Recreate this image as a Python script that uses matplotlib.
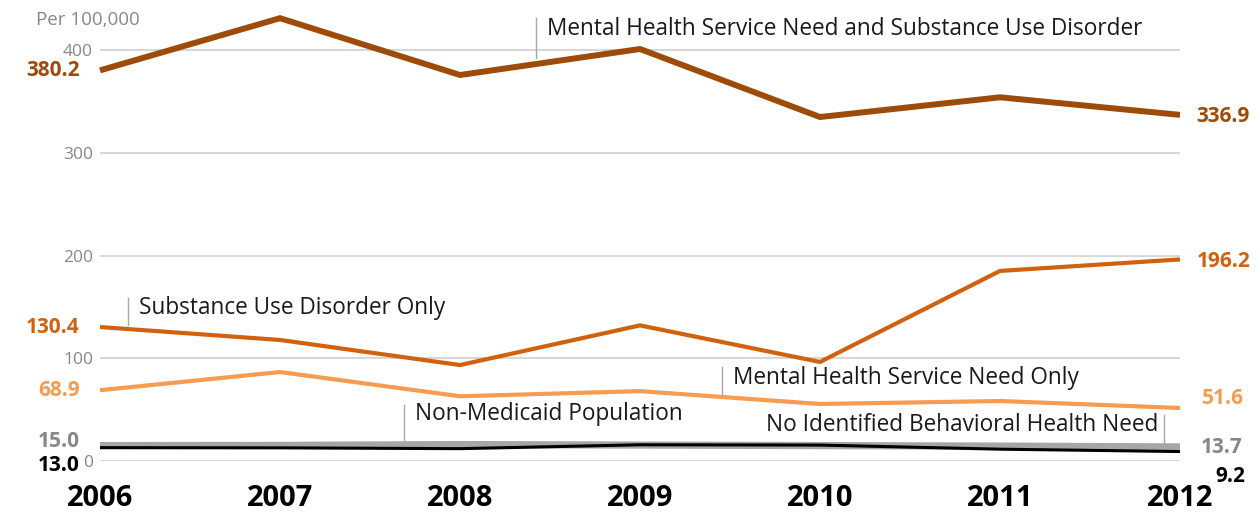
import matplotlib.pyplot as plt

plt.rcParams['font.family'] = ['Open Sans', 'DejaVu Sans']

# -------- DATA --------
years = [2006, 2007, 2008, 2009, 2010, 2011, 2012]
mh_and_sud = [380.2, 431.0, 375.7, 401.0, 334.8, 354.0, 336.9]
sud_only = [130.4, 117.8, 93.4, 132.0, 96.4, 185.0, 196.2]
mh_only = [68.9, 86.6, 63.0, 68.0, 55.5, 58.4, 51.6]
non_medicaid = [15.0, 15.2, 16.0, 15.5, 15.0, 14.5, 13.7]
no_bh_need = [13.0, 12.8, 12.0, 15.8, 15.5, 11.5, 9.2]

series_names = [
    "Mental Health Service Need and Substance Use Disorder",
    "Substance Use Disorder Only",
    "Mental Health Service Need Only",
    "Non-Medicaid Population",
    "No Identified Behavioral Health Need",
]
yticks = [0, 100, 200, 300, 400]

# -------- STYLE --------
c_brown = '#9E4A08'
c_orange = '#D0610F'
c_light = '#F79B50'
c_gray = '#A6A6A6'
c_gray_txt = '#878787'
c_black = '#000000'

fig = plt.figure(figsize=(12.6, 5.18), dpi=100)
ax = fig.add_axes([100 / 1260, 57 / 518, 1080 / 1260, 461 / 518])
ax.set_xlim(2006, 2012)
ax.set_ylim(0, 448.7)
k = 1.0275  # pixels per data unit


def px_x(p):
    return 2006 + (p - 100) / 180


def px_y(p):
    return (461 - p) / k


series = [
    (mh_and_sud, c_brown, 4.3),
    (sud_only, c_orange, 3.0),
    (mh_only, c_light, 3.0),
    (non_medicaid, c_gray, 5.2),
    (no_bh_need, c_black, 2.2),
]
for vals, col, lw in series:
    ax.plot(years, vals, color=col, lw=lw, clip_on=False,
            solid_capstyle='butt', solid_joinstyle='miter', zorder=3)

# grid and axes
ax.set_yticks(yticks)
ax.set_yticklabels([str(t) for t in yticks], color=c_gray_txt, fontsize=12.5)
ax.tick_params(axis='y', length=0, pad=5)
ax.grid(axis='y', color='#D0D0D0', lw=1.2, zorder=0)
ax.set_xticks([])
for s in ax.spines.values():
    s.set_visible(False)
ax.text(px_x(36), px_y(20), "Per 100,000", color=c_gray_txt,
        fontsize=13.5, ha='left', va='center')

for yr in years:
    ax.text(yr, px_y(499), str(yr), ha='center', va='center',
            fontsize=21, fontweight='bold', color='black')

# end value labels: (value, colour, x px, y offset px)
left_labels = [(mh_and_sud[0], c_brown, 80, 0), (sud_only[0], c_orange, 80, 0),
               (mh_only[0], c_light, 80, 0), (non_medicaid[0], c_gray_txt, 80, 4),
               (no_bh_need[0], c_black, 80, -18)]
right_labels = [(mh_and_sud[-1], c_brown, 1196, -2), (sud_only[-1], c_orange, 1197, -2),
                (mh_only[-1], c_light, 1202, 9), (non_medicaid[-1], c_gray_txt, 1201, -1),
                (no_bh_need[-1], c_black, 1215, -25)]
for v, col, x, dy in left_labels:
    ax.text(px_x(x), v + dy / k, f"{v:.1f}", ha='right', va='center',
            fontsize=15, fontweight='bold', color=col)
for v, col, x, dy in right_labels:
    ax.text(px_x(x), v + dy / k, f"{v:.1f}", ha='left', va='center',
            fontsize=15, fontweight='bold', color=col)

# series labels with leader lines: (text, leader x px, top px, bottom px, text x px, text y px, ha)
ann = [
    (series_names[0], 536, 18, 58, 547, 29, 'left'),
    (series_names[1], 128, 298, 325, 139, 308, 'left'),
    (series_names[2], 722, 367, 394, 733, 378, 'left'),
    (series_names[3], 404, 405, 441, 415, 414, 'left'),
    (series_names[4], 1164, 415, 445, 1158, 425, 'right'),
]
for name, lx, yt, yb, tx, ty, ha in ann:
    ax.plot([px_x(lx), px_x(lx)], [px_y(yt), px_y(yb)], color=c_gray, lw=1,
            zorder=2, clip_on=False)
    ax.text(px_x(tx), px_y(ty), name, ha=ha, va='center', fontsize=16.3,
            color='#1A1A1A', zorder=4)

fig.savefig('out.png', dpi=100)
